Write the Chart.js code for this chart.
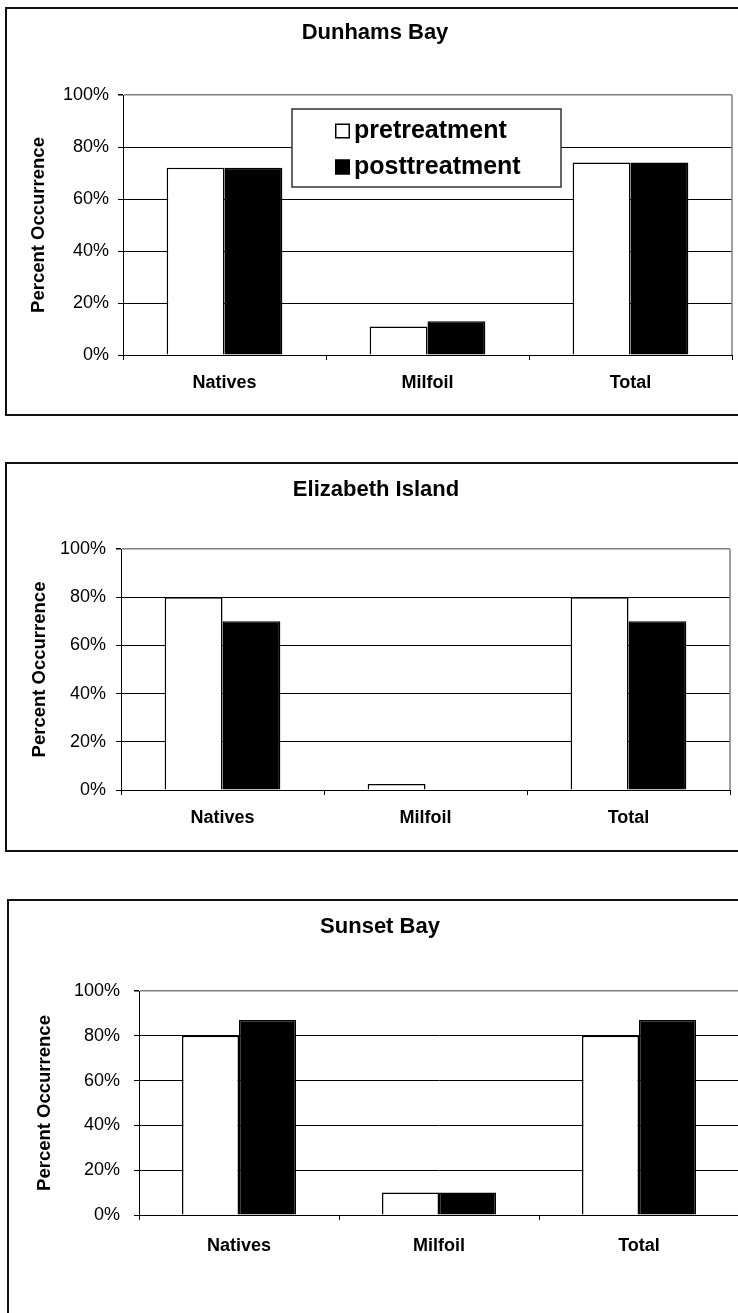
<!DOCTYPE html>
<html lang="en">
<head>
    <meta charset="UTF-8">
    <title>Percent Occurrence</title>
    <script src="https://cdn.jsdelivr.net/npm/chart.js"></script>
    <style>
        html, body {
            margin: 0;
            padding: 0;
            width: 738px;
            height: 1313px;
            overflow: hidden;
            background-color: #fff;
        }

        .frame {
            position: absolute;
            box-sizing: border-box;
            border: 2px solid #111;
        }

        canvas {
            position: absolute;
            left: 0;
        }
    </style>
</head>
<body>
    <div class="frame" id="frame1"></div>
    <div class="frame" id="frame2"></div>
    <div class="frame" id="frame3"></div>
    <canvas id="dunhamsChart"></canvas>
    <canvas id="elizabethChart"></canvas>
    <canvas id="sunsetChart"></canvas>

    <script>
        const categories = ['Natives', 'Milfoil', 'Total'];
        const seriesNames = ['pretreatment', 'posttreatment'];
        const yTickValues = [0, 20, 40, 60, 80, 100];

        const dunhamsPre = [72, 11, 74];
        const dunhamsPost = [72, 13, 74];
        const elizabethPre = [80, 2.5, 80];
        const elizabethPost = [70, 0, 70];
        const sunsetPre = [80, 10, 80];
        const sunsetPost = [87, 10, 87];

        const FONT = "'Liberation Sans', Arial, sans-serif";
        const CANVAS_W = 770;

        // page positions of each panel (px)
        const dunhamsLayout = {
            frameLeft: 5, top: 7, height: 409,
            plotLeft: 123, plotRight: 732, plotTop: 95, plotBottom: 355,
            titleX: 375, titleY: 33, labelY: 383, yTitleX: 39, tickPad: 9,
            legend: { x: 292, y: 109, w: 269, h: 78, rows: [22, 58], markX: 335, markSize: 15, textX: 354 }
        };
        const elizabethLayout = {
            frameLeft: 5, top: 462, height: 390,
            plotLeft: 121, plotRight: 730, plotTop: 549, plotBottom: 790,
            titleX: 376, titleY: 490, labelY: 818, yTitleX: 40, tickPad: 10
        };
        const sunsetLayout = {
            frameLeft: 7, top: 899, height: 440,
            plotLeft: 139, plotRight: 739, plotTop: 991, plotBottom: 1215,
            titleX: 380, titleY: 927, labelY: 1246, yTitleX: 45, tickPad: 14
        };

        const plotBorder = {
            id: 'plotBorder',
            beforeDatasetsDraw(chart) {
                const a = chart.chartArea;
                const ctx = chart.ctx;
                ctx.save();
                ctx.strokeStyle = '#808080';
                ctx.lineWidth = 1.5;
                ctx.beginPath();
                ctx.moveTo(a.right, a.top);
                ctx.lineTo(a.right, a.bottom);
                ctx.stroke();
                ctx.restore();
            }
        };

        const boxLegend = {
            id: 'boxLegend',
            afterDraw(chart, args, opts) {
                if (!opts || !opts.box) return;
                const b = opts.box;
                const s = b.markSize;
                const ctx = chart.ctx;
                ctx.save();
                ctx.fillStyle = '#fff';
                ctx.fillRect(b.x, b.y, b.w, b.h);
                ctx.strokeStyle = '#333';
                ctx.lineWidth = 1.5;
                ctx.strokeRect(b.x, b.y, b.w, b.h);
                chart.data.datasets.forEach((ds, i) => {
                    const cy = b.y + b.rows[i];
                    ctx.fillStyle = ds.backgroundColor;
                    ctx.fillRect(b.markX, cy - s / 2, s, s);
                    ctx.strokeStyle = '#000';
                    ctx.lineWidth = 1.5;
                    ctx.strokeRect(b.markX + 0.75, cy - s / 2 + 0.75, s - 1.5, s - 1.5);
                    ctx.fillStyle = '#000';
                    ctx.font = 'bold 25px ' + FONT;
                    ctx.textBaseline = 'middle';
                    ctx.textAlign = 'left';
                    ctx.fillText(ds.label, b.textX, cy);
                });
                ctx.restore();
            }
        };

        function makeChart(canvasId, frameId, title, pre, post, lay) {
            const frame = document.getElementById(frameId);
            frame.style.left = lay.frameLeft + 'px';
            frame.style.top = lay.top + 'px';
            frame.style.width = (CANVAS_W + 20) + 'px';
            frame.style.height = lay.height + 'px';

            const canvas = document.getElementById(canvasId);
            canvas.width = CANVAS_W;
            canvas.height = lay.height;
            canvas.style.top = lay.top + 'px';

            const titleSize = 22, labelSize = 18, tickSize = 18, yTitleSize = 18.5;
            const titleLH = titleSize * 1.2;
            const padLeft = 2 * lay.titleX - lay.plotRight;
            const padRight = CANVAS_W - lay.plotRight;
            const titleTop = lay.titleY - lay.top - titleLH / 2;
            const titleBottom = (lay.plotTop - lay.top) - titleTop - titleLH;

            let legendBox = null;
            if (lay.legend) {
                legendBox = Object.assign({}, lay.legend, { y: lay.legend.y - lay.top });
            }

            return new Chart(canvas.getContext('2d'), {
                type: 'bar',
                data: {
                    labels: categories,
                    datasets: [{
                        label: seriesNames[0],
                        data: pre,
                        backgroundColor: '#ffffff',
                        borderColor: '#000000',
                        borderWidth: 1.5
                    }, {
                        label: seriesNames[1],
                        data: post,
                        backgroundColor: '#000000',
                        borderColor: '#000000',
                        borderWidth: 1.5
                    }]
                },
                options: {
                    responsive: false,
                    animation: false,
                    layout: {
                        padding: { left: padLeft, right: padRight, top: 0, bottom: 0 }
                    },
                    datasets: {
                        bar: { barPercentage: 1, categoryPercentage: 0.57 }
                    },
                    scales: {
                        x: {
                            offset: true,
                            grid: {
                                offset: true,
                                drawOnChartArea: false,
                                drawTicks: true,
                                tickLength: 5,
                                color: '#000'
                            },
                            border: { display: true, color: '#000', width: 1 },
                            ticks: {
                                color: '#000',
                                padding: lay.labelY - lay.plotBottom - 5 - labelSize * 0.6,
                                font: { family: FONT, size: labelSize, weight: 'bold' }
                            },
                            afterFit(scale) {
                                scale.height = lay.top + lay.height - lay.plotBottom;
                            }
                        },
                        y: {
                            min: 0,
                            max: 100,
                            afterBuildTicks(scale) {
                                scale.ticks = yTickValues.map(v => ({ value: v }));
                            },
                            grid: {
                                color: ctx => (ctx.tick && ctx.tick.value === 100) ? '#808080' : '#000',
                                lineWidth: ctx => (ctx.tick && ctx.tick.value === 100) ? 1.5 : 1,
                                tickColor: '#000',
                                tickLength: 5
                            },
                            border: { display: true, color: '#000', width: 1 },
                            ticks: {
                                color: '#000',
                                padding: lay.tickPad,
                                font: { family: FONT, size: tickSize },
                                callback: v => v + '%'
                            },
                            title: {
                                display: true,
                                text: 'Percent Occurrence',
                                color: '#000',
                                font: { family: FONT, size: yTitleSize, weight: 'bold' },
                                padding: { top: lay.yTitleX - padLeft - yTitleSize * 0.6, bottom: 0 }
                            },
                            afterFit(scale) {
                                scale.width = lay.plotLeft - padLeft;
                            }
                        }
                    },
                    plugins: {
                        legend: { display: false },
                        tooltip: { enabled: false },
                        title: {
                            display: true,
                            text: title,
                            color: '#000',
                            font: { family: FONT, size: titleSize, weight: 'bold' },
                            padding: { top: titleTop, bottom: titleBottom }
                        },
                        boxLegend: { box: legendBox }
                    }
                },
                plugins: [plotBorder, boxLegend]
            });
        }

        makeChart('dunhamsChart', 'frame1', 'Dunhams Bay', dunhamsPre, dunhamsPost, dunhamsLayout);
        makeChart('elizabethChart', 'frame2', 'Elizabeth Island', elizabethPre, elizabethPost, elizabethLayout);
        makeChart('sunsetChart', 'frame3', 'Sunset Bay', sunsetPre, sunsetPost, sunsetLayout);
    </script>
</body>
</html>
